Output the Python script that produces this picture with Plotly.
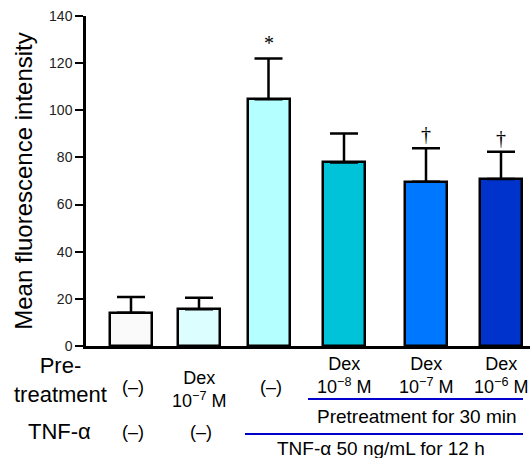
import plotly.graph_objects as go

groups = ["Control", "Dex 1e-7", "TNF", "TNF+Dex 1e-8", "TNF+Dex 1e-7", "TNF+Dex 1e-6"]
means = [14.1, 15.6, 104.7, 77.9, 69.7, 70.9]
sds = [6.7, 4.9, 17.3, 12.3, 14.2, 11.5]
colors = ["#fafafa", "#dcfefe", "#b4ffff", "#00c2d8", "#0077ff", "#0033cc"]
marks = ["", "", "*", "", "†", "†"]
pretreat = ["(–)", "Dex<br>10<sup>−7</sup> M", "(–)", "Dex<br>10<sup>−8</sup> M",
            "Dex<br>10<sup>−7</sup> M", "Dex<br>10<sup>−6</sup> M"]
tnf = ["(–)", "(–)"]
yticks = [0, 20, 40, 60, 80, 100, 120, 140]

# layout positions (pixel-like axis units)
xpos = [45, 113, 182.5, 258, 340, 415]
pre_y = [387, 389, 387, 375, 375, 375]
W, H = 530, 458
L, T, B = 86, 16, 112
PW, PH = W - L, H - T - B
FONT = "Arial, Liberation Sans, sans-serif"
SERIF = "Times New Roman, Liberation Serif, serif"


def px(x):
    return (x - L) / PW


def py(y):
    return (H - B - y) / PH


def txt(x, y, t, size):
    return dict(x=px(x), y=py(y), xref="paper", yref="paper", text=t, showarrow=False,
                xanchor="center", yanchor="middle",
                font=dict(size=size, family=FONT, color="black"))


fig = go.Figure()
fig.add_trace(go.Bar(
    x=xpos, y=means, width=42,
    marker=dict(color=colors, line=dict(color="black", width=2.5)),
    error_y=dict(type="data", array=sds, arrayminus=[0] * 6, symmetric=False,
                 color="black", thickness=2.5, width=14),
    showlegend=False,
))

ann = []
for i, m in enumerate(marks):
    if m:
        ann.append(dict(x=xpos[i], y=means[i] + sds[i], xref="x", yref="y",
                        text=m, showarrow=False, yanchor="bottom", xanchor="center",
                        yshift=2 if m == "*" else 1,
                        font=dict(size=20, family=SERIF, color="black")))

# pretreatment row
for i, t in enumerate(pretreat):
    shift = 2 if t == "(–)" else 0
    ann.append(txt(xpos[i] + L + shift, pre_y[i], t, 18))
for i, t in enumerate(tnf):
    ann.append(txt(xpos[i] + L + 2, 432, t, 18))
ann.append(txt(60, 380, "Pre-<br>treatment", 22))
ann.append(txt(59, 431, "TNF-α", 22))
ann.append(txt(417, 416, "Pretreatment for 30 min", 19))
ann.append(txt(381, 449, "TNF-α 50 ng/mL for 12 h", 19))

shapes = [
    dict(type="line", xref="paper", yref="paper", x0=px(308), x1=px(523), y0=py(399), y1=py(399),
         line=dict(color="#0000cc", width=2)),
    dict(type="line", xref="paper", yref="paper", x0=px(245), x1=px(523), y0=py(434), y1=py(434),
         line=dict(color="#0000cc", width=2)),
]

fig.update_layout(
    width=W, height=H,
    margin=dict(l=L, r=0, t=T, b=B),
    plot_bgcolor="white", paper_bgcolor="white",
    font=dict(family=FONT, color="black"),
    bargap=0,
    xaxis=dict(range=[0, PW], showticklabels=False, ticks="", showgrid=False, zeroline=False,
               showline=True, linecolor="black", linewidth=2.5, fixedrange=True),
    yaxis=dict(range=[0, 140], tickvals=yticks, ticks="outside", ticklen=8, tickwidth=2,
               tickcolor="black", showgrid=False, zeroline=False, showline=True,
               linecolor="black", linewidth=2.5, tickfont=dict(size=14, family=FONT, color="#222"),
               title=dict(text="Mean fluorescence intensity", standoff=10,
                          font=dict(size=24, family=FONT, color="black"))),
    annotations=ann, shapes=shapes,
)

fig.write_html("out.html")
